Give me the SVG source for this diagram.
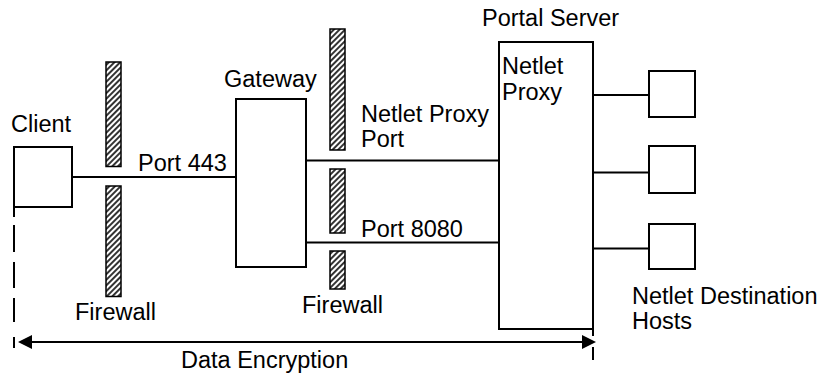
<svg xmlns="http://www.w3.org/2000/svg" width="825" height="376" viewBox="0 0 825 376">
<defs>
<pattern id="hatch" width="4" height="4" patternUnits="userSpaceOnUse" patternTransform="rotate(45)">
<line x1="1" y1="0" x2="1" y2="4" stroke="#000" stroke-width="1.6"/>
</pattern>
<style>
text{font-family:"Liberation Sans",Arial,sans-serif;font-size:23.5px;fill:#000}
.box{fill:#fff;stroke:#000;stroke-width:2}
.fw{fill:url(#hatch);stroke:#000;stroke-width:1.5}
.ln{stroke:#000;stroke-width:2;fill:none}
</style>
</defs>
<rect width="825" height="376" fill="#fff"/>

<g id="firewall-left">
<rect class="fw" x="106" y="62" width="15" height="104.5"/>
<rect class="fw" x="106" y="186" width="15" height="110.5"/>
<text x="75" y="320">Firewall</text>
</g>
<g id="firewall-right">
<rect class="fw" x="330" y="29" width="15" height="121"/>
<rect class="fw" x="330" y="169" width="15" height="64"/>
<rect class="fw" x="330" y="251" width="15" height="38"/>
<text x="302" y="312.5">Firewall</text>
</g>

<g id="connectors">
<line class="ln" x1="72" y1="177" x2="236" y2="177"/>
<line class="ln" x1="306" y1="160.5" x2="499" y2="160.5"/>
<line class="ln" x1="306" y1="242.5" x2="499" y2="242.5"/>
<line class="ln" x1="593" y1="95" x2="649" y2="95"/>
<line class="ln" x1="593" y1="172.5" x2="649" y2="172.5"/>
<line class="ln" x1="593" y1="248.5" x2="649" y2="248.5"/>
<path class="ln" d="M14,207V217M14,225V252M14,262V288M14,298V322M14,337V348"/>
<path class="ln" d="M593,329V336M593,347V360"/>
<line class="ln" x1="30" y1="342" x2="584" y2="342"/>
<polygon points="18,342 32,335 32,349" fill="#000"/>
<polygon points="596,342 582,335 582,349" fill="#000"/>
<text x="138" y="170.5">Port 443</text>
<text x="361" y="122">Netlet Proxy</text>
<text x="361" y="146.5">Port</text>
<text x="361" y="236.5">Port 8080</text>
<text x="181" y="368">Data Encryption</text>
</g>

<g id="client">
<rect class="box" x="14" y="147" width="58" height="60"/>
<text x="11" y="132">Client</text>
</g>
<g id="gateway">
<rect class="box" x="236" y="99" width="70" height="168"/>
<text x="224" y="87">Gateway</text>
</g>
<g id="portal-server">
<rect class="box" x="499" y="42" width="94" height="287"/>
<text x="482" y="26">Portal Server</text>
<text x="502" y="74">Netlet</text>
<text x="502" y="100">Proxy</text>
</g>
<g id="host1"><rect class="box" x="649" y="71" width="46" height="46"/></g>
<g id="host2"><rect class="box" x="649" y="146" width="46" height="47"/></g>
<g id="host3"><rect class="box" x="649" y="224" width="46" height="45"/></g>
<g id="hosts-label"><text x="632" y="304">Netlet Destination</text><text x="632" y="329">Hosts</text></g>
</svg>
